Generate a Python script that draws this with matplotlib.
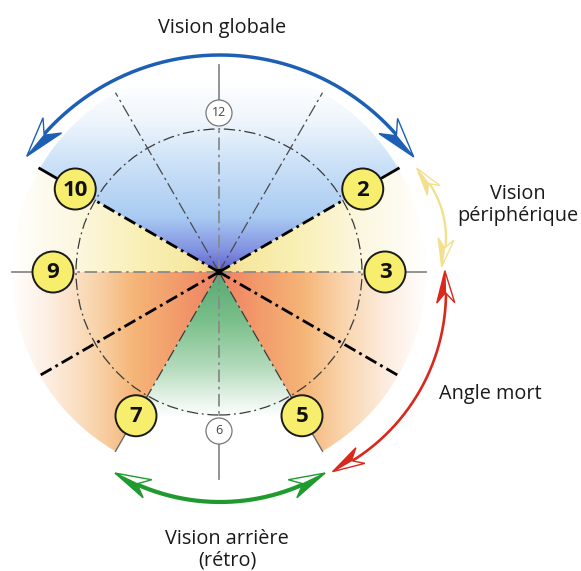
import numpy as np
import matplotlib
matplotlib.use("Agg")
import matplotlib.pyplot as plt
from matplotlib.patches import Wedge, Circle, Polygon
from matplotlib.colors import to_rgb

# ---------------- data ----------------
marker_hours = [10, 2, 9, 3, 7, 5]          # yellow numbered discs
small_hours = [12, 6]                        # small white discs
thick_hours = [10, 2, 4, 8]                  # thick black dash-dot rays
thin_hours = [11, 1]                         # thin dash-dot rays
edge_hours = [7, 5]                          # thin rays bounding the rear zone
axis_hours = [12, 3, 6, 9]                   # grey axes

zone_names = ["Vision globale", "Vision\npériphérique", "Angle mort", "Vision arrière\n(rétro)"]
zone_arrow_colors = ["#1d5fb4", "#f3e08e", "#d9281c", "#1f9a2e"]

shade_start = [2, 10, 3, 9, 5, 7]
shade_end = [10, 9, 2, 7, 3, 5]
shade_kind = ["blue", "yellow", "yellow", "orange", "orange", "green"]

# ---------------- style / layout ----------------
W, H = 581, 571
CX, CY = 219, H - 272
R_OUT, R_IN, R_MARK, R_SMALL = 207, 143, 166, 159

gradients = {
    "blue":   ("up",    [0, 20, 55, 110, 150, 190],
               ["#5a5bcc", "#7f8ee0", "#a9cbf2", "#cde2f8", "#eef5fc", "#ffffff"]),
    "green":  ("down",  [0, 50, 95, 125, 145],
               ["#57a871", "#7cc08c", "#b3dabb", "#e4f2e7", "#ffffff"]),
    "yellow": ("side",  [0, 25, 80, 140, 210],
               ["#f3d282", "#f6e8a0", "#f9f0b6", "#fcf7df", "#ffffff"]),
    "orange": ("side",  [0, 40, 85, 125, 170, 210],
               ["#ef8062", "#f29b6b", "#f5b577", "#f9d5ae", "#fdeee2", "#ffffff"]),
}

# arrows: centre (screen px), radius, start / end angle (deg, counter-clockwise)
arrow_center = [(220, 290), (348, 238), (247, 292), (220, 297)]
arrow_radius = [235, 98, 199, 205]
arrow_a1 = [34.5, -17.0, -64.5, -120.8]
arrow_a2 = [145.3, 45.4, 6.1, -59.2]
arrow_lw = [2.5, 1.7, 1.9, 3.0]
head_len = [40, 28, 32, 36]
head_w = [12, 8, 9, 10]
outline_outer = [True, True, True, False]


def hour_angle(h):
    return (90 - 30 * h) % 360


def pt(angle_deg, r):
    a = np.radians(angle_deg)
    return CX + r * np.cos(a), CY + r * np.sin(a)


fig = plt.figure(figsize=(W / 100, H / 100), dpi=100)
ax = fig.add_axes([0, 0, 1, 1])
ax.set_xlim(0, W)
ax.set_ylim(0, H)
ax.set_aspect("equal")
ax.axis("off")

# ---------------- gradient sectors ----------------
xs = np.arange(W) + 0.5
ys = np.arange(H) + 0.5
XX, YY = np.meshgrid(xs, ys)
for s, e, kind in zip(shade_start, shade_end, shade_kind):
    mode, stops, cols = gradients[kind]
    if mode == "up":
        d = YY - CY
    elif mode == "down":
        d = CY - YY
    else:
        d = np.abs(XX - CX)
    d = np.clip(d, 0, None)
    rgb = np.array([to_rgb(c) for c in cols])
    img = np.zeros((H, W, 3))
    for k in range(3):
        img[..., k] = np.interp(d, stops, rgb[:, k])
    t1 = hour_angle(s)
    t2 = hour_angle(e)
    if t2 <= t1:
        t2 += 360
    wedge = Wedge((CX, CY), R_OUT, t1, t2, facecolor="none", edgecolor="none")
    ax.add_patch(wedge)
    im = ax.imshow(img, extent=(0, W, 0, H), origin="lower", zorder=1,
                   interpolation="bilinear")
    im.set_clip_path(wedge)

# ---------------- inner circle ----------------
ax.add_patch(Circle((CX, CY), R_IN, fill=False, edgecolor="#3a3a3a", lw=0.9,
                    linestyle=(0, (9, 3, 1.5, 3)), zorder=3))

# ---------------- axes (grey) ----------------
for h in axis_hours:
    a = hour_angle(h)
    rr = 13 if h in small_hours else 20
    rc = R_SMALL if h in small_hours else R_MARK
    x1, y1 = pt(a, rc - rr)
    ax.plot([CX, x1], [CY, y1], color="#8a8a8a", lw=1.3,
            linestyle=(0, (7, 2.5, 1.5, 2.5)), zorder=4)
    x2, y2 = pt(a, rc + rr)
    x3, y3 = pt(a, R_OUT)
    ax.plot([x2, x3], [y2, y3], color="#8a8a8a", lw=1.3, zorder=4)

# thin rays 11 and 1
for h in thin_hours:
    x1, y1 = pt(hour_angle(h), R_OUT)
    ax.plot([CX, x1], [CY, y1], color="#4a4a4a", lw=0.9,
            linestyle=(0, (10, 3, 2, 3)), zorder=4)

# rays 7 and 5
for h in edge_hours:
    a = hour_angle(h)
    x1, y1 = pt(a, R_MARK - 20)
    ax.plot([CX, x1], [CY, y1], color="#3a3a3a", lw=0.9,
            linestyle=(0, (10, 3, 2, 3)), zorder=4)
    x2, y2 = pt(a, R_MARK + 20)
    x3, y3 = pt(a, R_OUT)
    ax.plot([x2, x3], [y2, y3], color="#6a6a6a", lw=1.0, zorder=4)

# thick rays
dash_thick = (0, (4.5, 1.6, 1.0, 1.6))
for h in thick_hours:
    a = hour_angle(h)
    if h in marker_hours:
        x1, y1 = pt(a, R_MARK - 20)
        ax.plot([CX, x1], [CY, y1], color="black", lw=2.0,
                linestyle=dash_thick, zorder=5)
        x2, y2 = pt(a, R_MARK + 20)
        x3, y3 = pt(a, R_OUT)
        ax.plot([x2, x3], [y2, y3], color="black", lw=2.0, zorder=5)
    else:
        x1, y1 = pt(a, R_OUT)
        ax.plot([CX, x1], [CY, y1], color="black", lw=2.0,
                linestyle=dash_thick, zorder=5)

ax.add_patch(Circle((CX, CY), 2.5, color="black", zorder=6))

# ---------------- discs ----------------
for h in marker_hours:
    x, y = pt(hour_angle(h), R_MARK)
    ax.add_patch(Circle((x, y), 20.5, facecolor="#f6ee6c", edgecolor="#1a1a1a",
                        lw=1.4, zorder=7))
    ax.text(x, y - 1, str(h), ha="center", va="center", fontsize=16,
            fontweight="bold", family="Open Sans", color="#111111", zorder=8)

for h in small_hours:
    x, y = pt(hour_angle(h), R_SMALL)
    ax.add_patch(Circle((x, y), 13, facecolor="white", edgecolor="#777777",
                        lw=0.9, zorder=7))
    ax.text(x, y, str(h), ha="center", va="center", fontsize=9,
            family="Open Sans", color="#444444", zorder=8)


# ---------------- arrows ----------------
def arc_point(c, r, ang):
    a = np.radians(ang)
    return np.array([c[0] + r * np.cos(a), c[1] + r * np.sin(a)])


def arrow_head(c, r, ang, sgn, L, Wd, color, outer):
    tip = arc_point(c, r, ang)
    back = arc_point(c, r, ang - sgn * np.degrees(L / r))
    d = (tip - back) / np.linalg.norm(tip - back)
    n = np.array([-d[1], d[0]])
    radial = tip - np.array(c)
    if np.dot(n, radial) < 0:
        n = -n                      # n points away from arc centre
    base = tip - L * d
    notch = tip - 0.68 * L * d
    b_out = base + Wd * n
    b_in = base - Wd * n
    if outer:
        b_open, b_fill = b_out, b_in
    else:
        b_open, b_fill = b_in, b_out
    ax.add_patch(Polygon([tip, b_fill, notch], closed=True, facecolor=color,
                         edgecolor=color, lw=1.0, joinstyle="miter", zorder=9))
    ax.add_patch(Polygon([tip, b_open, notch], closed=True, facecolor="white",
                         edgecolor=color, lw=1.0, joinstyle="miter", zorder=9))


for i in range(4):
    c = (arrow_center[i][0], H - arrow_center[i][1])
    r = arrow_radius[i]
    col = zone_arrow_colors[i]
    lo, hi = arrow_a1[i], arrow_a2[i]
    dth = np.degrees(0.66 * head_len[i] / r)
    th = np.radians(np.linspace(lo + dth, hi - dth, 200))
    ax.plot(c[0] + r * np.cos(th), c[1] + r * np.sin(th), color=col,
            lw=arrow_lw[i], solid_capstyle="butt", zorder=8)
    arrow_head(c, r, hi, 1, head_len[i], head_w[i], col, outline_outer[i])
    arrow_head(c, r, lo, -1, head_len[i], head_w[i], col, outline_outer[i])

# ---------------- labels ----------------
label_pos = [(222, 28), (518, 205), (490, 394), (227, 550)]
for name, (x, y) in zip(zone_names, label_pos):
    ax.text(x, H - y, name, ha="center", va="center", fontsize=14.3,
            family="Open Sans", color="#1a1a1a", linespacing=1.12, zorder=10)

fig.savefig("out.png", dpi=100)
